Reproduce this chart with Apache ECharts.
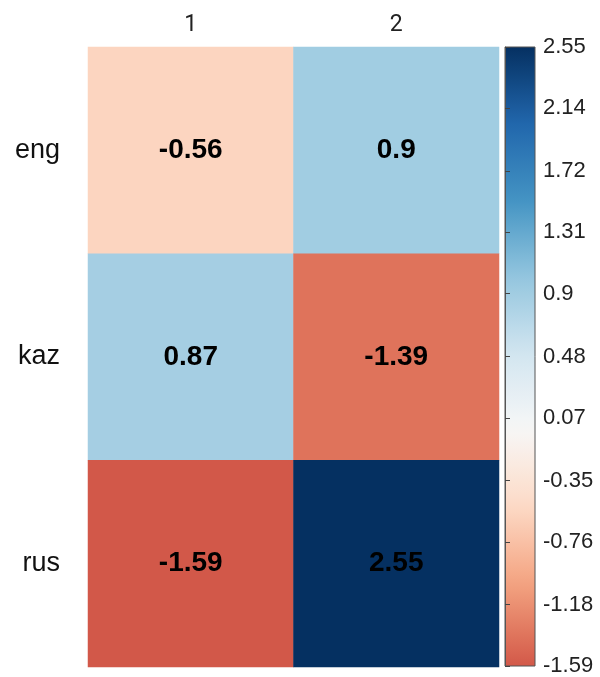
<!DOCTYPE html>
<html><head><meta charset="utf-8">
<script src="https://cdn.jsdelivr.net/npm/echarts@6/dist/echarts.min.js"></script>
<style>html,body{margin:0;padding:0;background:#fff}#c{width:600px;height:677px}</style>
</head><body><div id="c"></div>
<script>
var rowNames = ['eng', 'kaz', 'rus'];
var colNames = ['1', '2'];
var col1Values = [-0.56, 0.87, -1.59];
var col2Values = [0.9, -1.39, 2.55];
var tickLabels = ['-1.59','-1.18','-0.76','-0.35','0.07','0.48','0.9','1.31','1.72','2.14','2.55'];
var rdbu = ['#67001F','#B2182B','#D6604D','#F4A582','#FDDBC7','#F7F7F7','#D1E5F0','#92C5DE','#4393C3','#2166AC','#053061'];

var vMin = -1.59, vMax = 2.55, lim = 2.55;
function hex2rgb(h){return [parseInt(h.substr(1,2),16),parseInt(h.substr(3,2),16),parseInt(h.substr(5,2),16)];}
function colorAt(v){
  var t = (v + lim) / (2 * lim) * (rdbu.length - 1);
  var i = Math.max(0, Math.min(rdbu.length - 2, Math.floor(t)));
  var f = t - i;
  var a = hex2rgb(rdbu[i]), b = hex2rgb(rdbu[i+1]);
  var c = a.map(function(x,k){return Math.round(x + (b[k]-x)*f);});
  return 'rgb(' + c.join(',') + ')';
}
var N = 41, ramp = [], stops = [];
for (var k = 0; k < N; k++) {
  var v = vMin + (vMax - vMin) * k / (N - 1);
  ramp.push(colorAt(v));
  stops.push({offset: 1 - k / (N - 1), color: colorAt(v)});
}
var data = [];
rowNames.forEach(function(r, i){
  data.push([0, i, col1Values[i]]);
  data.push([1, i, col2Values[i]]);
});
var font = 'Liberation Sans, Arial, Helvetica, sans-serif';
var tickVals = tickLabels.map(Number);
var chart = echarts.init(document.getElementById('c'));
chart.setOption({
  animation: false,
  grid: [
    {left: 88, right: 101, top: 47, bottom: 10},
    {left: 505, width: 30, top: 47, bottom: 11, show: true, borderColor: '#555', borderWidth: 1,
     backgroundColor: {type: 'linear', x: 0, y: 0, x2: 0, y2: 1, colorStops: stops}}
  ],
  xAxis: [
    {type: 'category', data: colNames, position: 'top', gridIndex: 0,
     axisLine: {show: false}, axisTick: {show: false}, splitLine: {show: false},
     axisLabel: {fontSize: 23, color: '#222', fontFamily: 'Roboto, ' + font, margin: 10}},
    {type: 'value', gridIndex: 1, show: false, min: 0, max: 1}
  ],
  yAxis: [
    {type: 'category', data: rowNames, inverse: true, gridIndex: 0,
     axisLine: {show: false}, axisTick: {show: false}, splitLine: {show: false},
     axisLabel: {fontSize: 27, color: '#111', fontFamily: font, margin: 28}},
    {type: 'value', gridIndex: 1, position: 'right', min: vMin, max: vMax,
     axisLine: {show: true, lineStyle: {color: '#555', width: 1}}, splitLine: {show: false},
     axisTick: {show: true, inside: false, length: 5, lineStyle: {color: '#444'}, customValues: tickVals},
     axisLabel: {show: true, inside: false, fontSize: 22, color: '#222', fontFamily: font, margin: 8,
       customValues: tickVals,
       formatter: function(v){ for (var i=0;i<tickLabels.length;i++){ if (Math.abs(tickVals[i]-v)<1e-6) return tickLabels[i]; } return ''; }}}
  ],
  visualMap: {show: false, min: vMin, max: vMax, dimension: 2, seriesIndex: 0, inRange: {color: ramp}},
  series: [{
    type: 'heatmap', xAxisIndex: 0, yAxisIndex: 0, data: data,
    label: {show: true, fontSize: 28, fontWeight: 'bold', color: '#000', fontFamily: font,
      formatter: function(p){ return String(p.value[2]); }},
    itemStyle: {borderWidth: 0}
  }]
});
</script></body></html>
